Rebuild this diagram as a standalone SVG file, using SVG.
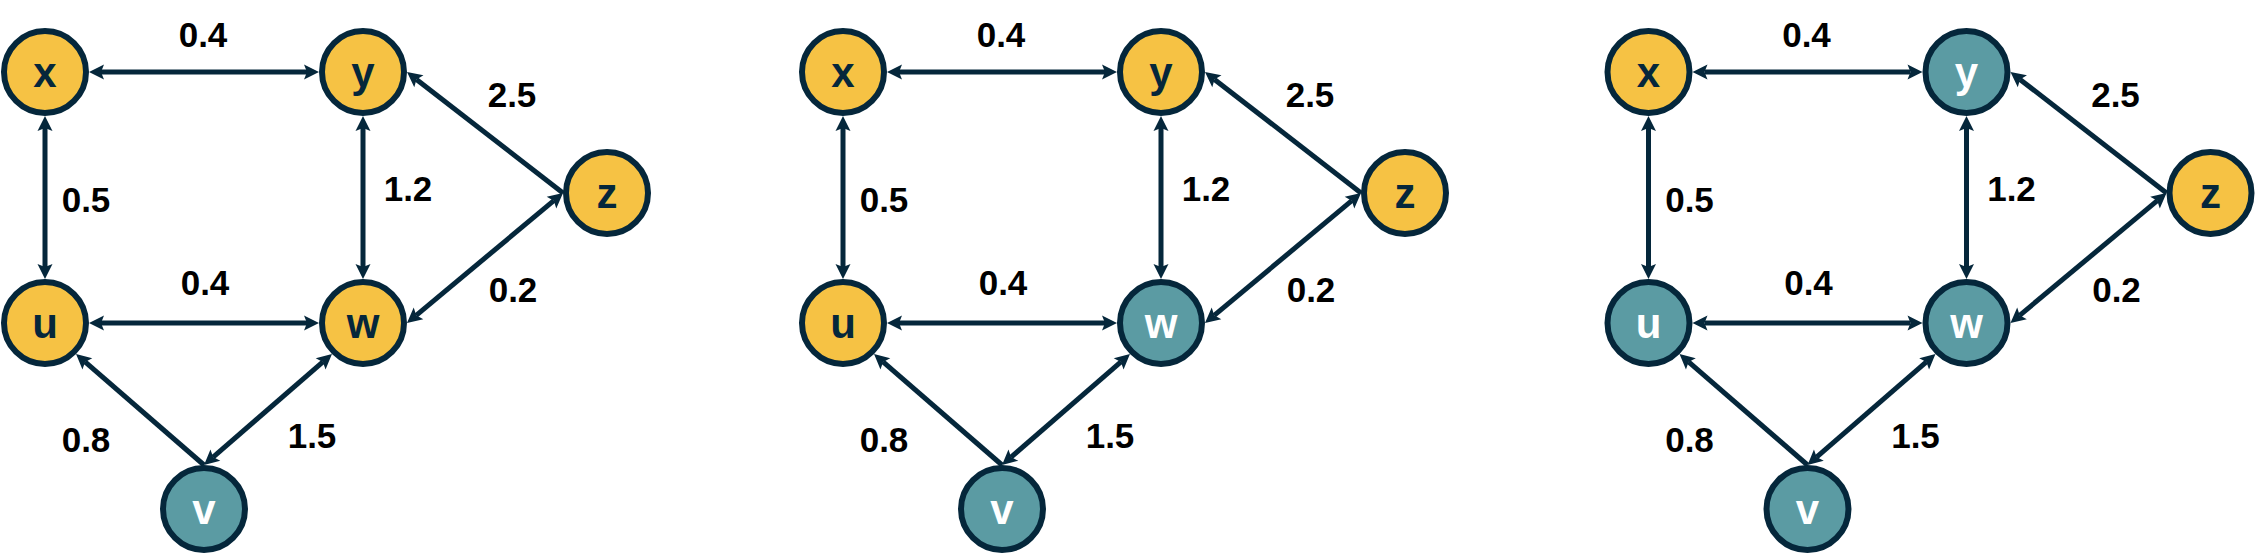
<svg xmlns="http://www.w3.org/2000/svg" width="2256" height="560" viewBox="0 0 2256 560">
<style>
.node circle{stroke:#05273B;stroke-width:6}
.yel circle{fill:#F6C244}
.teal circle{fill:#5B9BA3}
.node text{font-family:"Liberation Sans",Arial,sans-serif;font-weight:bold;font-size:42px;text-anchor:middle}
.yel text{fill:#05273B}
.teal text{fill:#FFFFFF}
.edge{stroke:#05273B;stroke-width:5;fill:none}
.two{marker-start:url(#ah);marker-end:url(#ah)}
.one{marker-end:url(#ah)}
.lbl{font-family:"Liberation Sans",Arial,sans-serif;font-weight:bold;font-size:35px;text-anchor:middle;fill:#000}
</style>
<defs>
<marker id="ah" markerUnits="userSpaceOnUse" markerWidth="20" markerHeight="20" refX="3" refY="0" viewBox="0 -10 20 20" orient="auto-start-reverse" overflow="visible">
<path d="M0,-7.5 L15,0 L0,7.5 L3,0 Z" fill="#05273B"/>
</marker>
</defs>
<rect width="2256" height="560" fill="#FFFFFF"/>

<!-- Graph 1 -->
<g id="graph1">
<g id="g1-connectors">
<path class="edge two" d="M101,72 L307,72"/>
<path class="edge two" d="M45,128 L45,267"/>
<path class="edge two" d="M363,128 L363,267"/>
<path class="edge two" d="M101,323 L307,323"/>
<path class="edge one" d="M563,193 L416.5,79.4"/>
<path class="edge two" d="M553.8,200.7 L416.2,315.3"/>
<path class="edge one" d="M204,465 L85.1,361.9"/>
<path class="edge two" d="M213.1,457.1 L322.9,361.9"/>
</g>
<g id="g1-labels">
<text class="lbl" x="203" y="47">0.4</text>
<text class="lbl" x="86" y="212">0.5</text>
<text class="lbl" x="408" y="201">1.2</text>
<text class="lbl" x="512" y="107">2.5</text>
<text class="lbl" x="513" y="302">0.2</text>
<text class="lbl" x="205" y="295">0.4</text>
<text class="lbl" x="86" y="452">0.8</text>
<text class="lbl" x="312" y="448">1.5</text>
</g>
<g id="g1-x" class="node yel"><circle cx="45" cy="72" r="41"/><text x="45" y="87">x</text></g>
<g id="g1-y" class="node yel"><circle cx="363" cy="72" r="41"/><text x="363" y="87">y</text></g>
<g id="g1-z" class="node yel"><circle cx="607" cy="193" r="41"/><text x="607" y="208">z</text></g>
<g id="g1-u" class="node yel"><circle cx="45" cy="323" r="41"/><text x="45" y="338">u</text></g>
<g id="g1-w" class="node yel"><circle cx="363" cy="323" r="41"/><text x="363" y="338">w</text></g>
<g id="g1-v" class="node teal"><circle cx="204" cy="509" r="41"/><text x="204" y="524">v</text></g>
</g>

<!-- Graph 2 -->
<g id="graph2" transform="translate(798,0)">
<g id="g2-connectors">
<path class="edge two" d="M101,72 L307,72"/>
<path class="edge two" d="M45,128 L45,267"/>
<path class="edge two" d="M363,128 L363,267"/>
<path class="edge two" d="M101,323 L307,323"/>
<path class="edge one" d="M563,193 L416.5,79.4"/>
<path class="edge two" d="M553.8,200.7 L416.2,315.3"/>
<path class="edge one" d="M204,465 L85.1,361.9"/>
<path class="edge two" d="M213.1,457.1 L322.9,361.9"/>
</g>
<g id="g2-labels">
<text class="lbl" x="203" y="47">0.4</text>
<text class="lbl" x="86" y="212">0.5</text>
<text class="lbl" x="408" y="201">1.2</text>
<text class="lbl" x="512" y="107">2.5</text>
<text class="lbl" x="513" y="302">0.2</text>
<text class="lbl" x="205" y="295">0.4</text>
<text class="lbl" x="86" y="452">0.8</text>
<text class="lbl" x="312" y="448">1.5</text>
</g>
<g id="g2-x" class="node yel"><circle cx="45" cy="72" r="41"/><text x="45" y="87">x</text></g>
<g id="g2-y" class="node yel"><circle cx="363" cy="72" r="41"/><text x="363" y="87">y</text></g>
<g id="g2-z" class="node yel"><circle cx="607" cy="193" r="41"/><text x="607" y="208">z</text></g>
<g id="g2-u" class="node yel"><circle cx="45" cy="323" r="41"/><text x="45" y="338">u</text></g>
<g id="g2-w" class="node teal"><circle cx="363" cy="323" r="41"/><text x="363" y="338">w</text></g>
<g id="g2-v" class="node teal"><circle cx="204" cy="509" r="41"/><text x="204" y="524">v</text></g>
</g>

<!-- Graph 3 -->
<g id="graph3" transform="translate(1603.5,0)">
<g id="g3-connectors">
<path class="edge two" d="M101,72 L307,72"/>
<path class="edge two" d="M45,128 L45,267"/>
<path class="edge two" d="M363,128 L363,267"/>
<path class="edge two" d="M101,323 L307,323"/>
<path class="edge one" d="M563,193 L416.5,79.4"/>
<path class="edge two" d="M553.8,200.7 L416.2,315.3"/>
<path class="edge one" d="M204,465 L85.1,361.9"/>
<path class="edge two" d="M213.1,457.1 L322.9,361.9"/>
</g>
<g id="g3-labels">
<text class="lbl" x="203" y="47">0.4</text>
<text class="lbl" x="86" y="212">0.5</text>
<text class="lbl" x="408" y="201">1.2</text>
<text class="lbl" x="512" y="107">2.5</text>
<text class="lbl" x="513" y="302">0.2</text>
<text class="lbl" x="205" y="295">0.4</text>
<text class="lbl" x="86" y="452">0.8</text>
<text class="lbl" x="312" y="448">1.5</text>
</g>
<g id="g3-x" class="node yel"><circle cx="45" cy="72" r="41"/><text x="45" y="87">x</text></g>
<g id="g3-y" class="node teal"><circle cx="363" cy="72" r="41"/><text x="363" y="87">y</text></g>
<g id="g3-z" class="node yel"><circle cx="607" cy="193" r="41"/><text x="607" y="208">z</text></g>
<g id="g3-u" class="node teal"><circle cx="45" cy="323" r="41"/><text x="45" y="338">u</text></g>
<g id="g3-w" class="node teal"><circle cx="363" cy="323" r="41"/><text x="363" y="338">w</text></g>
<g id="g3-v" class="node teal"><circle cx="204" cy="509" r="41"/><text x="204" y="524">v</text></g>
</g>
</svg>
